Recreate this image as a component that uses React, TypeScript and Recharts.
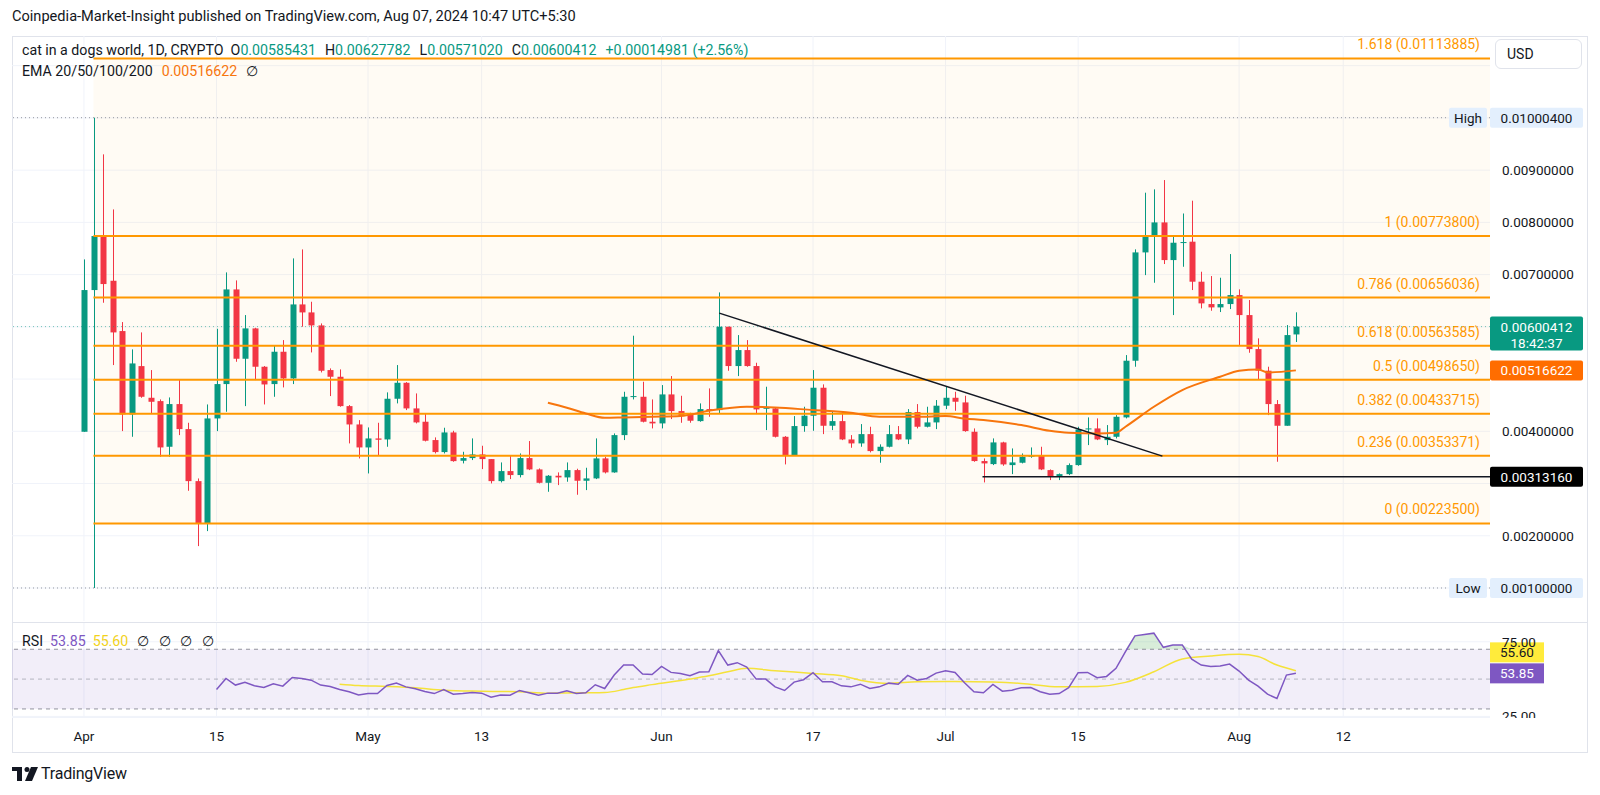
import React from "react";
import {
  ComposedChart,
  Bar,
  Line,
  Area,
  XAxis,
  YAxis,
  CartesianGrid,
  ReferenceLine,
  ReferenceArea,
} from "recharts";

const FONT = "Roboto, 'Noto Sans', sans-serif";
const INK = "#131722";
const GREEN = "#089981";
const RED = "#f23645";
const FIB_COLOR = "#ff9800";
const EMA_COLOR = "#f7750d";
const RSI_COLOR = "#7e57c2";
const RSI_MA_COLOR = "#f5e23a";

// daily candles, day 0 = Apr 1 2024
const OPEN = [
  0.003991, 0.006704, 0.007738, 0.006882, 0.005919, 0.004323, 0.005248, 0.004642, 0.004578, 0.003704,
  0.004521, 0.004042, 0.003046, 0.002236, 0.004246, 0.004904, 0.006716, 0.005389, 0.00597, 0.005236,
  0.004904, 0.005523, 0.005012, 0.006429, 0.006276, 0.006027, 0.005172, 0.005044, 0.004482, 0.004131,
  0.003691, 0.003863, 0.003844, 0.004623, 0.004929, 0.004438, 0.004183, 0.003832, 0.003602, 0.003978,
  0.003436, 0.003487, 0.003557, 0.003468, 0.003046, 0.003238, 0.003162, 0.003487, 0.00327, 0.003014,
  0.003149, 0.003117, 0.003257, 0.003053, 0.003098, 0.003481, 0.003213, 0.003927, 0.004661, 0.004661,
  0.004183, 0.004151, 0.004706, 0.004387, 0.004323, 0.004195, 0.004425, 0.004406, 0.006002, 0.005249,
  0.005555, 0.005249, 0.004438, 0.004438, 0.003895, 0.003544, 0.0041, 0.004298, 0.004834, 0.004106,
  0.004195, 0.003844, 0.003768, 0.003946, 0.003621, 0.003704, 0.003946, 0.003844, 0.004368, 0.004087,
  0.00417, 0.00449, 0.004642, 0.004553, 0.003991, 0.00343, 0.003372, 0.003787, 0.003353, 0.003398,
  0.003513, 0.003532, 0.003257, 0.00313, 0.00318, 0.003353, 0.004036, 0.004055, 0.003831, 0.003895,
  0.004266, 0.005351, 0.007425, 0.007725, 0.007999, 0.007278, 0.00761, 0.00763, 0.006864, 0.006436,
  0.006372, 0.006436, 0.006608, 0.006225, 0.005574, 0.00516, 0.004521, 0.004106, 0.00585431,
];
const HIGH = [
  0.007291, 0.010004, 0.009302, 0.008248, 0.006091, 0.005568, 0.005893, 0.005172, 0.00461, 0.004648,
  0.004993, 0.004163, 0.003097, 0.004514, 0.005963, 0.007042, 0.006889, 0.006225, 0.005982, 0.005249,
  0.005651, 0.005746, 0.00731, 0.007482, 0.00648, 0.006065, 0.005204, 0.005185, 0.004502, 0.004214,
  0.004074, 0.004163, 0.004745, 0.005268, 0.004942, 0.004725, 0.00433, 0.003883, 0.004068, 0.00401,
  0.003608, 0.003864, 0.003723, 0.003468, 0.003404, 0.003532, 0.003576, 0.003813, 0.003289, 0.003162,
  0.003213, 0.003404, 0.003283, 0.003302, 0.003864, 0.003512, 0.003959, 0.004757, 0.00583, 0.004949,
  0.00461, 0.004885, 0.005057, 0.00468, 0.004355, 0.004534, 0.004821, 0.006659, 0.006002, 0.005842,
  0.005746, 0.005312, 0.004853, 0.00445, 0.003908, 0.004291, 0.00447, 0.005172, 0.004898, 0.004387,
  0.004374, 0.003927, 0.004138, 0.004087, 0.00375, 0.004119, 0.0041, 0.004425, 0.004521, 0.00447,
  0.004598, 0.004866, 0.004757, 0.004681, 0.004055, 0.003481, 0.003864, 0.0038, 0.003672, 0.003576,
  0.003691, 0.003704, 0.00327, 0.003193, 0.003385, 0.004087, 0.004266, 0.004247, 0.004119, 0.00431,
  0.005459, 0.007483, 0.008568, 0.008632, 0.00881, 0.007757, 0.00817, 0.008415, 0.007055, 0.006972,
  0.00694, 0.007393, 0.006717, 0.006513, 0.005779, 0.005236, 0.004598, 0.006034, 0.00627782,
];
const LOW = [
  0.003991, 0.001, 0.006461, 0.005268, 0.004004, 0.003895, 0.004642, 0.004342, 0.003512, 0.003512,
  0.003927, 0.002861, 0.001802, 0.002089, 0.004004, 0.004374, 0.005331, 0.004482, 0.00498, 0.004514,
  0.004661, 0.00484, 0.004904, 0.006002, 0.00551, 0.005127, 0.004674, 0.00447, 0.003768, 0.00348,
  0.003193, 0.003544, 0.003704, 0.004534, 0.004406, 0.004151, 0.003806, 0.003576, 0.003576, 0.003417,
  0.003385, 0.003449, 0.003276, 0.003002, 0.003021, 0.003085, 0.003117, 0.003257, 0.003002, 0.002842,
  0.00297, 0.003034, 0.002785, 0.002874, 0.003085, 0.003193, 0.003206, 0.003832, 0.00461, 0.00417,
  0.004055, 0.004055, 0.004234, 0.004163, 0.004164, 0.004183, 0.004278, 0.004342, 0.005159, 0.005057,
  0.005236, 0.00433, 0.004023, 0.003882, 0.003366, 0.003544, 0.003991, 0.00401, 0.003946, 0.004023,
  0.003831, 0.003685, 0.003704, 0.003596, 0.003398, 0.003691, 0.003831, 0.003755, 0.004055, 0.004074,
  0.004042, 0.004425, 0.004393, 0.003991, 0.003417, 0.003021, 0.003353, 0.00334, 0.00318, 0.003385,
  0.003493, 0.003257, 0.003066, 0.003066, 0.003161, 0.00334, 0.003736, 0.003831, 0.003736, 0.003863,
  0.004247, 0.005236, 0.00699, 0.006844, 0.007202, 0.006225, 0.00715, 0.006704, 0.006353, 0.006308,
  0.006283, 0.00634, 0.005651, 0.005504, 0.004993, 0.00431, 0.003417, 0.004106, 0.0057102,
];
const CLOSE = [
  0.006704, 0.007738, 0.006819, 0.005893, 0.004323, 0.005299, 0.004661, 0.004565, 0.003691, 0.004521,
  0.004042, 0.003046, 0.002236, 0.004246, 0.004904, 0.006716, 0.005389, 0.00597, 0.005236, 0.004897,
  0.005523, 0.005012, 0.006429, 0.006276, 0.006027, 0.005159, 0.005044, 0.004482, 0.004131, 0.003691,
  0.003863, 0.003838, 0.004623, 0.004929, 0.004438, 0.00417, 0.003819, 0.003602, 0.003978, 0.003429,
  0.003487, 0.003557, 0.003468, 0.003046, 0.003238, 0.003162, 0.003487, 0.00327, 0.003014, 0.003149,
  0.003117, 0.003257, 0.003053, 0.003098, 0.003481, 0.003213, 0.003927, 0.004661, 0.004674, 0.004183,
  0.004151, 0.004706, 0.004387, 0.004298, 0.004202, 0.004425, 0.004419, 0.006002, 0.005249, 0.005555,
  0.005249, 0.004419, 0.00445, 0.003895, 0.003544, 0.0041, 0.004298, 0.004834, 0.004106, 0.004195,
  0.003844, 0.003768, 0.003946, 0.003621, 0.003704, 0.003946, 0.003844, 0.004368, 0.004087, 0.00417,
  0.00449, 0.004642, 0.004566, 0.004004, 0.00343, 0.003385, 0.003787, 0.003366, 0.003404, 0.003513,
  0.003544, 0.00327, 0.00313, 0.00318, 0.003353, 0.004036, 0.004055, 0.003844, 0.003895, 0.004278,
  0.005351, 0.007425, 0.007744, 0.007999, 0.007278, 0.00761, 0.007623, 0.006864, 0.006449, 0.006372,
  0.006436, 0.006608, 0.006225, 0.005574, 0.00516, 0.004521, 0.004106, 0.005842, 0.00600412,
];

// EMA 50 at a few days
const EMA_DAYS = [49, 51, 53, 55, 57, 60, 63, 66, 70, 73, 77, 81, 84, 88, 91, 93, 95, 99, 102, 104, 107, 109, 110, 113, 116, 120, 122, 124, 125, 128];
const EMA_VALUES = [
  0.004547, 0.004451, 0.004342, 0.004259, 0.004266, 0.004278, 0.004291, 0.004393, 0.00447, 0.004457,
  0.004406, 0.004355, 0.004278, 0.004278, 0.004291, 0.004246, 0.004215, 0.004119, 0.00401, 0.003972,
  0.003959, 0.003972, 0.004087, 0.00447, 0.00479, 0.005045, 0.00516, 0.005185, 0.005127, 0.00516622,
];

const RSI_START = 14;
const RSI = [
  43.0, 50.4, 46.0, 47.8, 45.5, 44.4, 46.9, 45.3, 51.1, 50.4,
  49.3, 46.0, 45.1, 43.0, 41.5, 39.4, 40.3, 40.3, 45.7, 47.3,
  44.8, 43.5, 41.7, 40.3, 43.0, 39.9, 40.3, 41.0, 40.6, 37.9,
  39.4, 39.2, 42.4, 40.8, 39.2, 40.6, 40.6, 42.1, 40.3, 40.8,
  46.2, 43.7, 52.7, 59.4, 59.4, 53.4, 53.1, 58.5, 54.5, 53.8,
  52.2, 54.7, 54.9, 69.1, 59.4, 61.0, 58.1, 50.0, 50.0, 44.8,
  42.4, 48.0, 49.6, 54.3, 48.2, 48.2, 45.5, 44.8, 46.6, 43.7,
  44.8, 47.3, 46.6, 52.5, 49.3, 50.4, 54.0, 55.6, 54.5, 47.5,
  41.5, 40.8, 46.4, 41.9, 42.6, 44.2, 44.4, 41.5, 39.9, 40.3,
  44.2, 54.3, 54.5, 50.9, 51.8, 57.2, 68.4, 79.0, 79.9, 80.8,
  71.3, 72.9, 72.9, 63.3, 59.4, 58.5, 58.8, 60.1, 55.4, 49.3,
  45.3, 39.9, 37.0, 52.7, 53.85,
];
const RSI_MA_DAYS = [27, 29, 32, 35, 38, 42, 46, 49, 53, 55, 57, 58, 60, 64, 66, 68, 70, 73, 77, 80, 82, 85, 88, 92, 96, 99, 103, 107, 110, 113, 116, 119, 122, 124, 126, 128];
const RSI_MA = [
  46.6, 45.7, 45.1, 44.2, 42.6, 41.9, 41.5, 40.6, 40.8, 41.0, 43.0, 44.3, 46.3, 50.0, 52.2, 54.9, 57.2, 55.6,
  53.8, 52.2, 49.3, 47.1, 48.2, 48.4, 48.0, 47.1, 44.8, 45.1, 47.8, 54.9, 63.5, 65.5, 66.6, 65.1, 59.4, 55.6,
];

const X_TICKS = [0, 14, 30, 42, 61, 77, 91, 105, 122, 133];
const X_LABELS = ["Apr", "15", "May", "13", "Jun", "17", "Jul", "15", "Aug", "12"];
const X_DOMAIN = [-7.6, 148.5];

const FIB_RATIOS = ["0", "0.236", "0.382", "0.5", "0.618", "0.786", "1", "1.618"];
const FIB_PRICES = [0.002235, 0.00353371, 0.00433715, 0.0049865, 0.00563585, 0.00656036, 0.007738, 0.01113885];
const FIB_FROM = 1;

const PRICE_TICKS = [0.002, 0.004, 0.007, 0.008, 0.009];
const GRID_PRICES = [0.001, 0.002, 0.003, 0.004, 0.005, 0.006, 0.007, 0.008, 0.009, 0.01, 0.011];
const Y_DOMAIN = [0.000368, 0.011568];
const RSI_DOMAIN = [24.6, 87.6];
const RSI_TICKS = [25, 75];

const TREND_DAYS = [67.1, 113.9];
const TREND_PRICES = [0.006263, 0.003525];
const SUPPORT = 0.0031316;
const SUPPORT_FROM = 94.9;
const HIGH_PRICE = 0.010004;
const LOW_PRICE = 0.001;
const LAST = 0.00600412;
const EMA_LAST = 0.00516622;
const RSI_LAST = 53.85;
const RSI_MA_LAST = 55.6;

const rows: any[] = OPEN.map((o, i) => ({
  day: i,
  range: [LOW[i], HIGH[i]],
  open: o,
  close: CLOSE[i],
  ema: null,
  rsi: null,
  rsiMa: null,
  ob: null,
}));
EMA_DAYS.forEach((d, k) => (rows[d].ema = EMA_VALUES[k]));
RSI.forEach((v, k) => {
  rows[RSI_START + k].rsi = v;
  rows[RSI_START + k].ob = [70, Math.max(70, v)];
});
RSI_MA_DAYS.forEach((d, k) => (rows[d].rsiMa = RSI_MA[k]));

function Candle(props: any) {
  const { x, y, width, height, payload } = props;
  if (x == null || !payload) return null;
  const [lo, hi] = payload.range;
  const top = Math.min(y, y + height);
  const h = Math.abs(height);
  const py = (v: number) => top + ((hi - v) / (hi - lo || 1)) * h;
  const up = payload.close >= payload.open;
  const color = up ? GREEN : RED;
  const cx = Math.round(x + width / 2) + 0.5;
  const bTop = py(Math.max(payload.open, payload.close));
  const bBot = py(Math.min(payload.open, payload.close));
  return (
    <g>
      <line x1={cx} x2={cx} y1={top} y2={top + h} stroke={color} strokeWidth={1} />
      <rect x={cx - 3} y={bTop} width={6} height={Math.max(1, bBot - bTop)} fill={color} />
    </g>
  );
}

function FibLabel(props: any) {
  const { viewBox, text } = props;
  if (!viewBox) return null;
  return (
    <text
      x={viewBox.x + viewBox.width - 10}
      y={viewBox.y - 14}
      textAnchor="end"
      dominantBaseline="central"
      fill={FIB_COLOR}
      fontSize={14}
      fontFamily={FONT}
    >
      {text}
    </text>
  );
}

function AxisBadge(props: any) {
  const { viewBox, text, sub, bg, fg, tag } = props;
  if (!viewBox) return null;
  const x = viewBox.x + viewBox.width;
  const y = viewBox.y;
  const h = sub ? 34 : 20;
  return (
    <g fontFamily={FONT} fontSize={13.5}>
      {tag && (
        <g>
          <rect x={x - 41} y={y - 10} width={38} height={20} rx={2} fill={bg} />
          <text x={x - 22} y={y} textAnchor="middle" dominantBaseline="central" fill={fg}>
            {tag}
          </text>
        </g>
      )}
      <rect x={x} y={y - 10} width={93} height={h} rx={2} fill={bg} />
      <text x={x + 46.5} y={y} textAnchor="middle" dominantBaseline="central" fill={fg}>
        {text}
      </text>
      {sub && (
        <text x={x + 46.5} y={y + 16} textAnchor="middle" dominantBaseline="central" fill={fg}>
          {sub}
        </text>
      )}
    </g>
  );
}

function RsiBadges(props: any) {
  const { viewBox } = props;
  if (!viewBox) return null;
  const x = viewBox.x + viewBox.width;
  const y = viewBox.y;
  return (
    <g fontFamily={FONT} fontSize={13.5}>
      <rect x={x} y={y - 31} width={54} height={20} fill="#ffeb3b" />
      <text x={x + 27} y={y - 21} textAnchor="middle" dominantBaseline="central" fill={INK}>
        {RSI_MA_LAST.toFixed(2)}
      </text>
      <rect x={x} y={y - 10} width={54} height={20} fill={RSI_COLOR} />
      <text x={x + 27} y={y} textAnchor="middle" dominantBaseline="central" fill="#fff">
        {RSI_LAST.toFixed(2)}
      </text>
    </g>
  );
}

function MainChart() {
  return (
    <ComposedChart width={1600} height={623} data={rows} margin={{ top: 36, right: 13, bottom: 2, left: 12 }}>
      <XAxis dataKey="day" type="number" domain={X_DOMAIN} allowDataOverflow hide ticks={X_TICKS} />
      <YAxis
        orientation="right"
        domain={Y_DOMAIN}
        allowDataOverflow
        width={97}
        ticks={PRICE_TICKS}
        tickFormatter={(v: number) => v.toFixed(8)}
        axisLine={false}
        tickLine={false}
        tickMargin={6}
        tick={{ fill: INK, fontSize: 13.5, fontFamily: FONT }}
      />
      <CartesianGrid stroke="#f0f3fa" horizontalValues={GRID_PRICES} verticalValues={X_TICKS} />
      <ReferenceArea
        x1={FIB_FROM}
        x2={X_DOMAIN[1]}
        y1={FIB_PRICES[0]}
        y2={FIB_PRICES[FIB_PRICES.length - 1]}
        fill={FIB_COLOR}
        fillOpacity={0.045}
        stroke="none"
      />
      <ReferenceLine y={HIGH_PRICE} stroke="#9598a1" strokeDasharray="1 3" />
      <ReferenceLine y={LOW_PRICE} stroke="#9598a1" strokeDasharray="1 3" />
      <ReferenceLine y={LAST} stroke={GREEN} strokeOpacity={0.55} strokeDasharray="1 3" />
      {FIB_PRICES.map((p) => (
        <ReferenceLine
          key={"f" + p}
          segment={[
            { x: FIB_FROM, y: p },
            { x: X_DOMAIN[1], y: p },
          ]}
          stroke={FIB_COLOR}
          strokeWidth={2}
        />
      ))}
      <Bar dataKey="range" barSize={6} shape={Candle} isAnimationActive={false} />
      <Line
        dataKey="ema"
        type="monotone"
        stroke={EMA_COLOR}
        strokeWidth={2}
        dot={false}
        activeDot={false}
        connectNulls
        isAnimationActive={false}
      />
      <ReferenceLine
        segment={[
          { x: TREND_DAYS[0], y: TREND_PRICES[0] },
          { x: TREND_DAYS[1], y: TREND_PRICES[1] },
        ]}
        stroke={INK}
        strokeWidth={1.5}
      />
      <ReferenceLine
        segment={[
          { x: SUPPORT_FROM, y: SUPPORT },
          { x: X_DOMAIN[1], y: SUPPORT },
        ]}
        stroke={INK}
        strokeWidth={1.5}
      />
      {FIB_PRICES.map((p, i) => (
        <ReferenceLine
          key={"fl" + p}
          y={p}
          stroke="none"
          label={<FibLabel text={`${FIB_RATIOS[i]} (${p.toFixed(8)})`} />}
        />
      ))}
      <ReferenceLine y={HIGH_PRICE} stroke="none" label={<AxisBadge text={HIGH_PRICE.toFixed(8)} tag="High" bg="#e3effd" fg={INK} />} />
      <ReferenceLine y={LOW_PRICE} stroke="none" label={<AxisBadge text={LOW_PRICE.toFixed(8)} tag="Low" bg="#e3effd" fg={INK} />} />
      <ReferenceLine y={SUPPORT} stroke="none" label={<AxisBadge text={SUPPORT.toFixed(8)} bg="#000" fg="#fff" />} />
      <ReferenceLine y={EMA_LAST} stroke="none" label={<AxisBadge text={EMA_LAST.toFixed(8)} bg="#ff6d00" fg="#fff" />} />
      <ReferenceLine y={LAST} stroke="none" label={<AxisBadge text={LAST.toFixed(8)} sub="18:42:37" bg={GREEN} fg="#fff" />} />
    </ComposedChart>
  );
}

function RsiChart() {
  return (
    <ComposedChart width={1600} height={130} data={rows} margin={{ top: 0, right: 13, bottom: 0, left: 12 }}>
      <XAxis
        dataKey="day"
        type="number"
        domain={X_DOMAIN}
        allowDataOverflow
        ticks={X_TICKS}
        interval={0}
        height={36}
        axisLine={false}
        tickLine={false}
        tickMargin={8}
        tickFormatter={(v: number) => X_LABELS[X_TICKS.indexOf(v)]}
        tick={{ fill: INK, fontSize: 13.5, fontFamily: FONT }}
      />
      <YAxis
        orientation="right"
        domain={RSI_DOMAIN}
        allowDataOverflow
        width={97}
        ticks={RSI_TICKS}
        tickFormatter={(v: number) => v.toFixed(2)}
        axisLine={false}
        tickLine={false}
        tickMargin={6}
        tick={{ fill: INK, fontSize: 13.5, fontFamily: FONT }}
      />
      <CartesianGrid stroke="#f0f3fa" horizontalValues={RSI_TICKS} verticalValues={X_TICKS} />
      <ReferenceArea y1={30} y2={70} fill={RSI_COLOR} fillOpacity={0.1} stroke="none" />
      <ReferenceLine y={70} stroke="#787b86" strokeDasharray="4 4" strokeOpacity={0.8} />
      <ReferenceLine y={50} stroke="#787b86" strokeDasharray="4 4" strokeOpacity={0.5} />
      <ReferenceLine y={30} stroke="#787b86" strokeDasharray="4 4" strokeOpacity={0.8} />
      <Area
        dataKey="ob"
        type="linear"
        stroke="none"
        fill="#4caf50"
        fillOpacity={0.22}
        isAnimationActive={false}
        activeDot={false}
      />
      <Line
        dataKey="rsiMa"
        type="monotone"
        stroke={RSI_MA_COLOR}
        strokeWidth={1.5}
        dot={false}
        activeDot={false}
        connectNulls
        isAnimationActive={false}
      />
      <Line
        dataKey="rsi"
        type="linear"
        stroke={RSI_COLOR}
        strokeWidth={1.5}
        dot={false}
        activeDot={false}
        isAnimationActive={false}
      />
      <ReferenceLine y={RSI_LAST} stroke="none" label={<RsiBadges />} />
    </ComposedChart>
  );
}

const up = { color: GREEN };

export default function App() {
  return (
    <div
      style={{
        position: "absolute",
        left: 0,
        top: 0,
        width: 1600,
        height: 795,
        background: "#fff",
        overflow: "hidden",
        fontFamily: FONT,
        color: INK,
      }}
    >
      <div style={{ position: "absolute", left: 12, top: 7, fontSize: 14.6 }}>
        Coinpedia-Market-Insight published on TradingView.com, Aug 07, 2024 10:47 UTC+5:30
      </div>
      <div
        style={{
          position: "absolute",
          left: 12,
          top: 36,
          width: 1576,
          height: 717,
          border: "1px solid #e0e3eb",
          boxSizing: "border-box",
        }}
      />
      <div style={{ position: "absolute", left: 0, top: 0 }}>
        <MainChart />
      </div>
      <div style={{ position: "absolute", left: 0, top: 623 }}>
        <RsiChart />
      </div>
      <div style={{ position: "absolute", left: 12, top: 622, width: 1576, height: 1, background: "#e0e3eb" }} />
      <div style={{ position: "absolute", left: 1490, top: 718, width: 97, height: 34, background: "#fff" }} />
      <div style={{ position: "absolute", left: 12, top: 717, width: 1478, height: 1, background: "#f0f3fa" }} />

      <div style={{ position: "absolute", left: 22, top: 42, fontSize: 14.2, whiteSpace: "nowrap" }}>
        <span>cat in a dogs world, 1D, CRYPTO</span>
        <span style={{ marginLeft: 7 }}>O</span>
        <span style={up}>0.00585431</span>
        <span style={{ marginLeft: 9 }}>H</span>
        <span style={up}>0.00627782</span>
        <span style={{ marginLeft: 9 }}>L</span>
        <span style={up}>0.00571020</span>
        <span style={{ marginLeft: 9 }}>C</span>
        <span style={up}>0.00600412</span>
        <span style={{ ...up, marginLeft: 9 }}>+0.00014981 (+2.56%)</span>
      </div>
      <div style={{ position: "absolute", left: 22, top: 63, fontSize: 14.2, whiteSpace: "nowrap" }}>
        <span>EMA 20/50/100/200</span>
        <span style={{ color: EMA_COLOR, marginLeft: 9 }}>0.00516622</span>
        <span style={{ marginLeft: 9 }}>∅</span>
      </div>
      <div style={{ position: "absolute", left: 22, top: 633, fontSize: 14.2, whiteSpace: "nowrap" }}>
        <span>RSI</span>
        <span style={{ color: RSI_COLOR, marginLeft: 7 }}>53.85</span>
        <span style={{ color: "#f2d21b", marginLeft: 7 }}>55.60</span>
        <span style={{ marginLeft: 9, letterSpacing: 3 }}>∅ ∅ ∅ ∅</span>
      </div>

      <div
        style={{
          position: "absolute",
          left: 1495,
          top: 39,
          width: 87,
          height: 30,
          border: "1px solid #e0e3eb",
          borderRadius: 6,
          boxSizing: "border-box",
          fontSize: 14,
          lineHeight: "28px",
          paddingLeft: 11,
        }}
      >
        USD
      </div>

      <div style={{ position: "absolute", left: 12, top: 764, display: "flex", alignItems: "center" }}>
        <svg width={26} height={14} viewBox="0 0 26 14">
          <rect x={0} y={0} width={10} height={4} fill={INK} />
          <rect x={5} y={0} width={5} height={14} fill={INK} />
          <circle cx={15} cy={2.5} r={2.5} fill={INK} />
          <polygon points="19,0 26,0 20,14 13,14" fill={INK} />
        </svg>
        <span style={{ fontSize: 16, marginLeft: 3, letterSpacing: -0.2 }}>TradingView</span>
      </div>
    </div>
  );
}
